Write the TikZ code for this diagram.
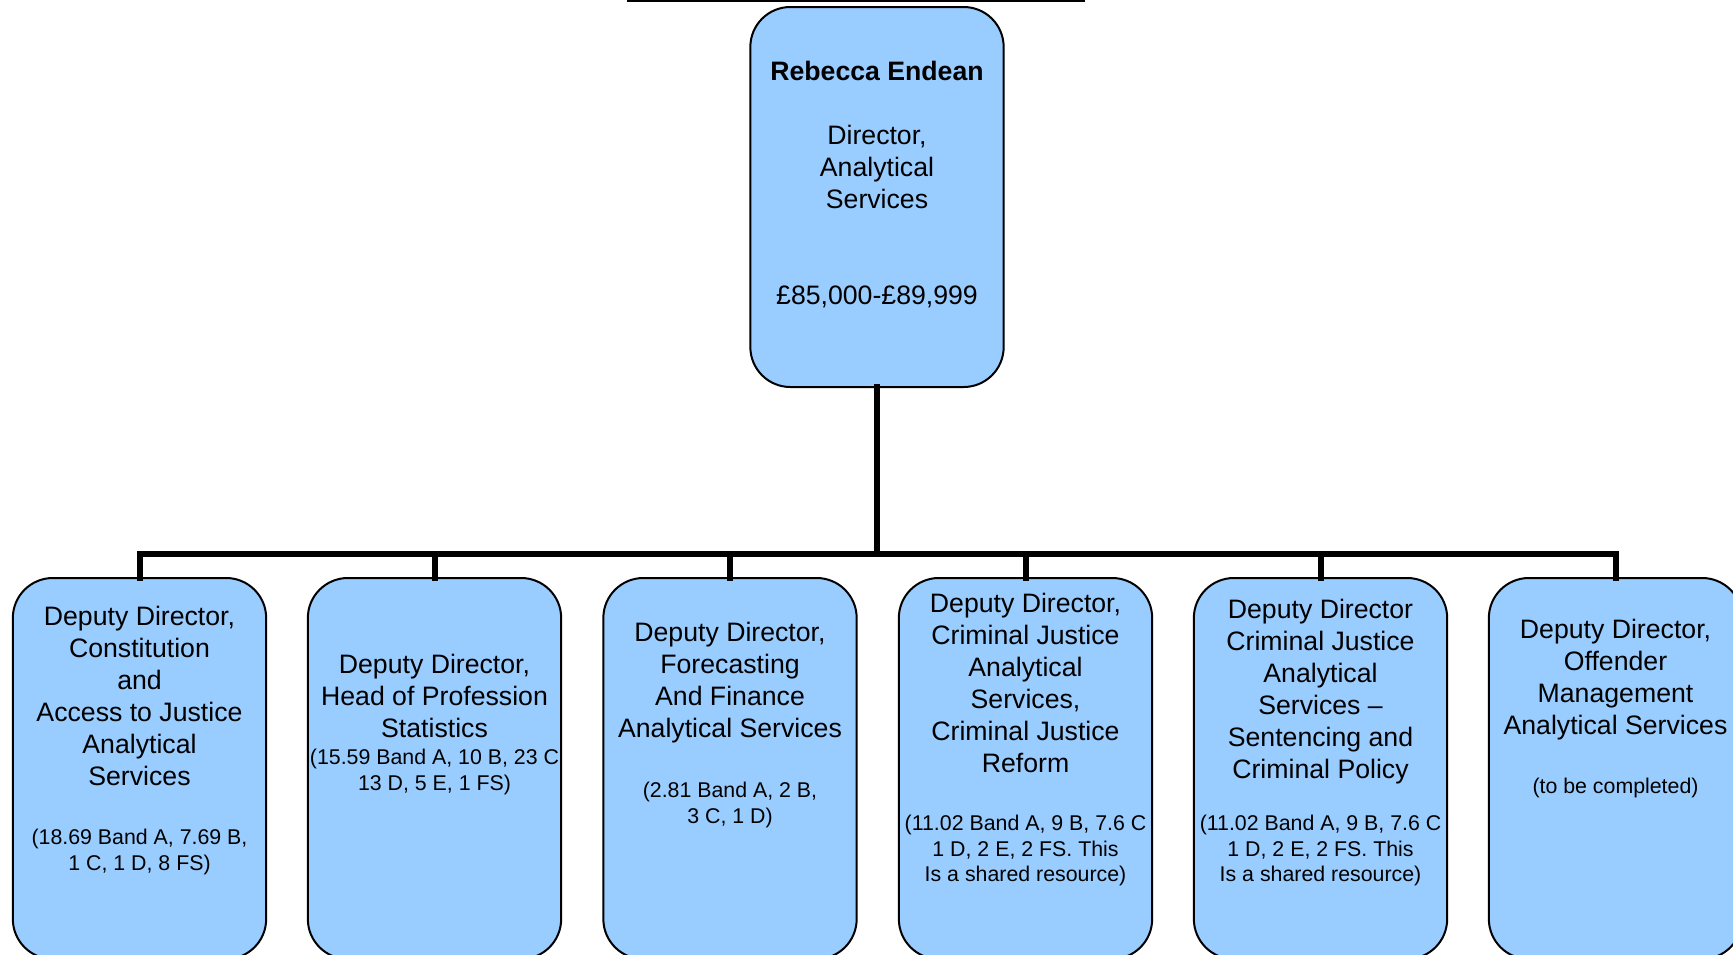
\documentclass[tikz,border=0pt]{standalone}
\usepackage{fontspec}
\setmainfont{Liberation Sans}
\definecolor{unitblue}{RGB}{153,204,255}
\begin{document}
\begin{tikzpicture}[x=0.75pt,y=-0.75pt,
  unitbox/.style={draw=black, line width=1.5pt, fill=unitblue,
    rounded corners=30pt, minimum width=190pt, minimum height=285.75pt,
    inner sep=0pt, outer sep=0pt},
  maintext/.style={align=center, inner sep=0pt, anchor=north,
    font=\fontsize{20}{24}\selectfont},
  smalltext/.style={align=center, inner sep=0pt, anchor=north,
    font=\fontsize{16}{19}\selectfont},
  link/.style={line width=4.5pt, line join=miter, line cap=rect}
]
\useasboundingbox (0,0) rectangle (1733,954);

% underline of the page heading
\coordinate (ulA) at (627,1);
\coordinate (ulB) at (1085,1);
\draw[line width=1.5pt] (ulA) -- (ulB);

% director
\node[unitbox, minimum height=285pt] (dir) at (877,197) {};
\node[maintext, font=\bfseries\fontsize{20}{24}\selectfont] (dirname) at (877,61) {Rebecca Endean};
\node[maintext] (dirrole) at (877,125) {Director,\\Analytical\\Services};
\node[maintext] (dirpay) at (877,286) {£85,000-£89,999};

% deputy directors
\node[unitbox] (dd1) at (139.5,768.5) {};
\node[unitbox] (dd2) at (434.5,768.5) {};
\node[unitbox] (dd3) at (730,768.5) {};
\node[unitbox] (dd4) at (1025.5,768.5) {};
\node[unitbox] (dd5) at (1320.5,768.5) {};
\node[unitbox] (dd6) at (1615.5,768.5) {};

\node[maintext] (dd1t) at (139.5,606) {Deputy Director,\\Constitution\\and\\Access to Justice\\Analytical\\Services};
\node[smalltext] (dd1s) at (139.5,829) {(18.69 Band A, 7.69 B,\\1 C, 1 D, 8 FS)};

\node[maintext] (dd2t) at (434.5,654) {Deputy Director,\\Head of Profession\\Statistics};
\node[smalltext] (dd2s) at (434.5,749) {(15.59 Band A, 10 B, 23 C\\13 D, 5 E, 1 FS)};

\node[maintext] (dd3t) at (730,622) {Deputy Director,\\Forecasting\\And Finance\\Analytical Services};
\node[smalltext] (dd3s) at (730,782) {(2.81 Band A, 2 B,\\3 C, 1 D)};

\node[maintext] (dd4t) at (1025.5,593) {Deputy Director,\\Criminal Justice\\Analytical\\Services,\\Criminal Justice\\Reform};
\node[smalltext] (dd4s) at (1025.5,815) {(11.02 Band A, 9 B, 7.6 C\\1 D, 2 E, 2 FS. This\\Is a shared resource)};

\node[maintext] (dd5t) at (1320.5,599) {Deputy Director\\Criminal Justice\\Analytical\\Services –\\Sentencing and\\Criminal Policy};
\node[smalltext] (dd5s) at (1320.5,815) {(11.02 Band A, 9 B, 7.6 C\\1 D, 2 E, 2 FS. This\\Is a shared resource)};

\node[maintext] (dd6t) at (1615.5,619) {Deputy Director,\\Offender\\Management\\Analytical Services};
\node[smalltext] (dd6s) at (1615.5,778) {(to be completed)};

% reporting lines
\coordinate (hub) at (877,553.5);
\draw[link] (dir.south) -- (hub);
\foreach \k in {1,...,6}{
  \draw[link] (hub) -| (dd\k.north);
}
\end{tikzpicture}
\end{document}
